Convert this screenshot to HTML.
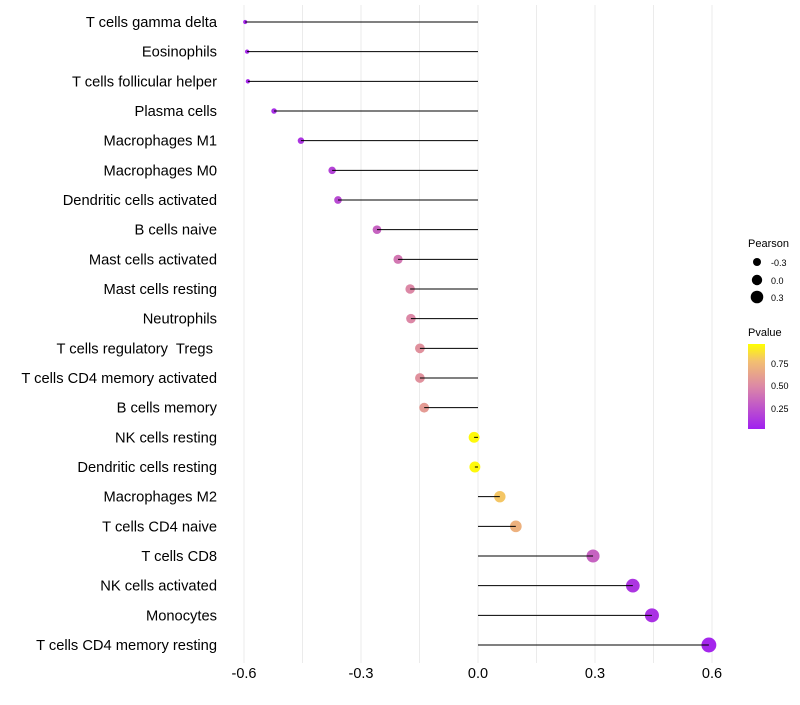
<!DOCTYPE html>
<html><head><meta charset="utf-8"><style>
body{margin:0;background:#fff;font-family:"Liberation Sans",sans-serif}
</style></head><body>
<svg id="chart" width="800" height="700" xmlns="http://www.w3.org/2000/svg">
<defs>
<linearGradient id="pg" x1="0" y1="1" x2="0" y2="0">
<stop offset="0" stop-color="#a020f0"/><stop offset="0.5" stop-color="#dc88a6"/><stop offset="0.8" stop-color="#f3c070"/><stop offset="1" stop-color="#ffff00"/>
</linearGradient>
</defs>
<g id="grid"></g>
<g id="marks"></g>
<g id="ylabels"></g>
<g id="xlabels"></g>
<g>
<text x="748" y="247" font-size="11">Pearson</text>
<circle cx="757" cy="262" r="4" fill="#000"/><text x="771" y="266" font-size="9">-0.3</text>
<circle cx="757" cy="280" r="5.2" fill="#000"/><text x="771" y="284" font-size="9">0.0</text>
<circle cx="757" cy="297" r="6.3" fill="#000"/><text x="771" y="301" font-size="9">0.3</text>
</g>
<g>
<text x="748" y="336" font-size="11">Pvalue</text>
<rect x="748" y="344" width="17" height="85" fill="url(#pg)"/>
<text x="771" y="367" font-size="9">0.75</text>
<text x="771" y="389" font-size="9">0.50</text>
<text x="771" y="412" font-size="9">0.25</text>
</g>
</svg>
<script>
const cells=["T cells gamma delta","Eosinophils","T cells follicular helper","Plasma cells","Macrophages M1","Macrophages M0","Dendritic cells activated","B cells naive","Mast cells activated","Mast cells resting","Neutrophils","T cells regulatory  Tregs ","T cells CD4 memory activated","B cells memory","NK cells resting","Dendritic cells resting","Macrophages M2","T cells CD4 naive","T cells CD8","NK cells activated","Monocytes","T cells CD4 memory resting"];
const pearson=[-0.597,-0.592,-0.59,-0.523,-0.454,-0.374,-0.359,-0.259,-0.205,-0.174,-0.172,-0.149,-0.149,-0.138,-0.01,-0.008,0.056,0.097,0.295,0.397,0.446,0.592];
const pvalue=[0.04,0.04,0.04,0.07,0.1,0.17,0.2,0.32,0.42,0.5,0.5,0.55,0.55,0.6,0.98,0.98,0.82,0.72,0.32,0.1,0.08,0.03];
const xticks=[-0.6,-0.3,0.0,0.3,0.6];
const xtickLabels=["-0.6","-0.3","0.0","0.3","0.6"];
const NS="http://www.w3.org/2000/svg";
const x=v=>478+v*390;
const y=i=>22+i*(623/21);
const r=v=>Math.sqrt(Math.max(2,30+43*v));
function lerp(a,b,t){return a.map((c,k)=>Math.round(c+(b[k]-c)*t));}
const stops=[[0,[160,32,240]],[0.5,[220,136,166]],[0.8,[243,192,112]],[1,[255,255,0]]];
function col(p){for(let k=1;k<stops.length;k++){if(p<=stops[k][0]){const t=(p-stops[k-1][0])/(stops[k][0]-stops[k-1][0]);const c=lerp(stops[k-1][1],stops[k][1],t);return `rgb(${c})`;}}return "rgb(255,255,0)";}
function mk(tag,attrs,parent){const e=document.createElementNS(NS,tag);for(const k in attrs)e.setAttribute(k,attrs[k]);parent.appendChild(e);return e;}
const grid=document.getElementById('grid'),marks=document.getElementById('marks'),yl=document.getElementById('ylabels'),xl=document.getElementById('xlabels');
for(let v=-0.6;v<=0.61;v+=0.15){const g=mk('line',{x1:x(v),x2:x(v),y1:5,y2:663,stroke:'#ebebeb','stroke-width':1},grid);

}
xticks.forEach((v,i)=>{const t=mk('text',{x:x(v),y:678,'font-size':14.5,'text-anchor':'middle',fill:'#000'},xl);t.textContent=xtickLabels[i];

});
cells.forEach((c,i)=>{
const dot=mk('circle',{cx:x(pearson[i]),cy:y(i),r:r(pearson[i]),fill:col(pvalue[i])},marks);


const ln=mk('line',{x1:x(0),x2:x(pearson[i]),y1:y(i),y2:y(i),stroke:'#000','stroke-width':1},marks);


const t=mk('text',{x:217,y:y(i)+5,'font-size':14.7,'text-anchor':'end',fill:'#000'},yl);t.textContent=c;t.setAttribute('xml:space','preserve');t.style.whiteSpace='pre';


});
</script>
</body></html>
